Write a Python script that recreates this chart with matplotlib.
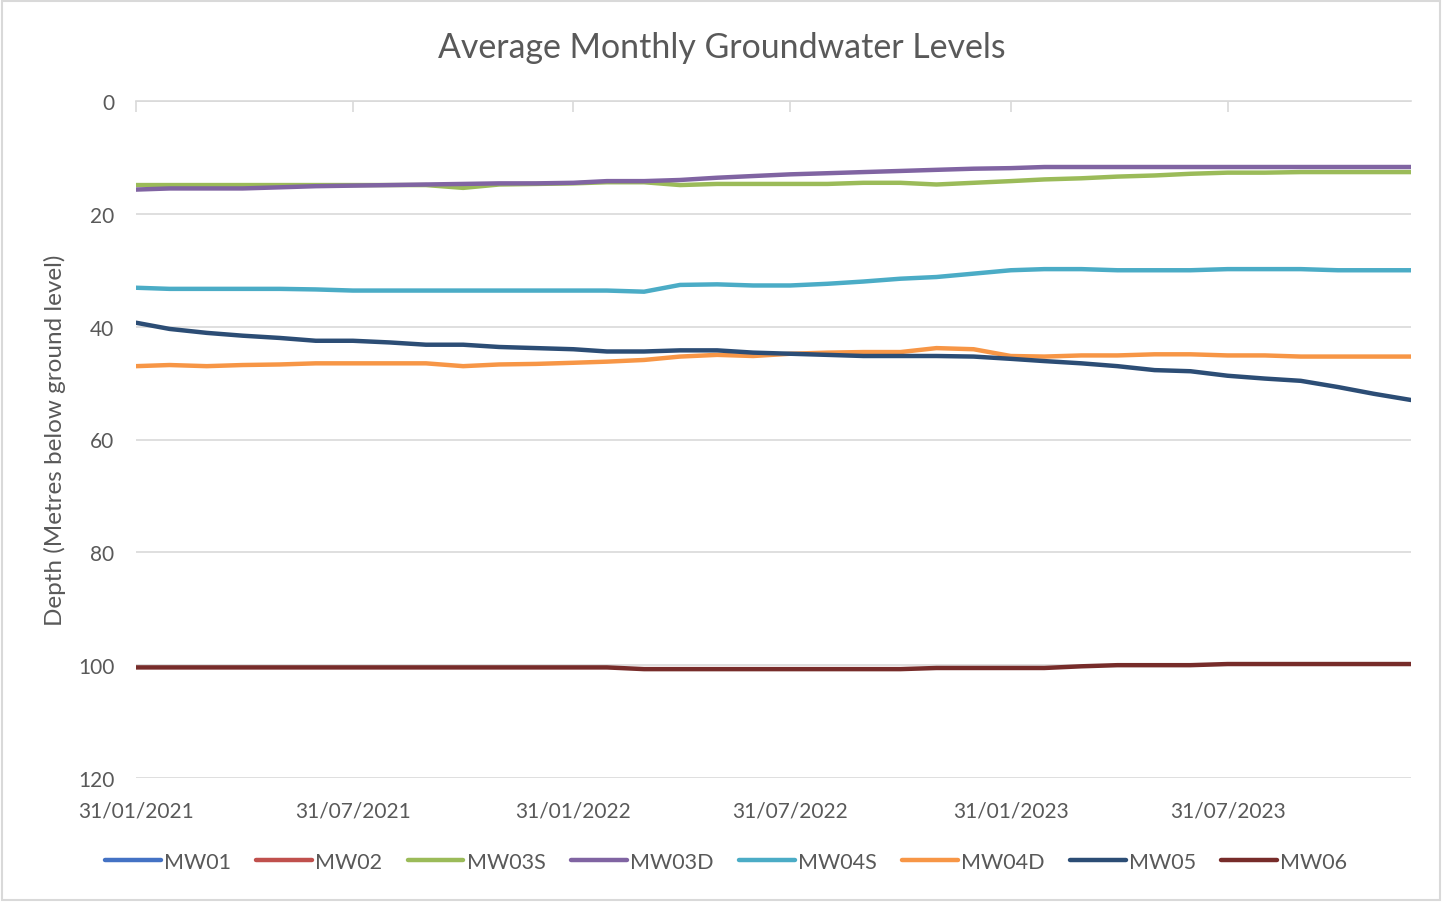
import matplotlib
matplotlib.use("Agg")
import matplotlib.pyplot as plt
import pandas as pd
from matplotlib.patches import Rectangle

plt.rcParams['font.family'] = ['Lato', 'DejaVu Sans']

dates = pd.date_range("2021-01-31", periods=36, freq="ME")

series_names = ["MW01", "MW02", "MW03S", "MW03D", "MW04S", "MW04D", "MW05", "MW06"]
colors = ["#4472C4", "#C0504D", "#9BBB59", "#8064A2", "#4BACC6", "#F79646", "#2C4D75", "#772C2A"]

mw01 = []
mw02 = []
mw03s = [14.9, 14.9, 14.9, 14.9, 14.9, 14.9, 14.9, 14.9, 14.9, 15.4, 14.8, 14.7,
         14.6, 14.4, 14.4, 14.9, 14.7, 14.7, 14.7, 14.7, 14.5, 14.5, 14.8, 14.5,
         14.2, 13.9, 13.7, 13.4, 13.2, 12.9, 12.7, 12.7, 12.6, 12.6, 12.6, 12.6]
mw03d = [15.7, 15.5, 15.5, 15.5, 15.3, 15.1, 15.0, 14.9, 14.8, 14.7, 14.6, 14.6,
         14.5, 14.2, 14.2, 14.0, 13.6, 13.3, 13.0, 12.8, 12.6, 12.4, 12.2, 12.0,
         11.9, 11.7, 11.7, 11.7, 11.7, 11.7, 11.7, 11.7, 11.7, 11.7, 11.7, 11.7]
mw04s = [33.1, 33.3, 33.3, 33.3, 33.3, 33.4, 33.6, 33.6, 33.6, 33.6, 33.6, 33.6,
         33.6, 33.6, 33.8, 32.6, 32.5, 32.7, 32.7, 32.4, 32.0, 31.5, 31.2, 30.6,
         30.0, 29.8, 29.8, 30.0, 30.0, 30.0, 29.8, 29.8, 29.8, 30.0, 30.0, 30.0]
mw04d = [47.0, 46.8, 47.0, 46.8, 46.7, 46.5, 46.5, 46.5, 46.5, 47.0, 46.7, 46.6,
         46.4, 46.2, 45.9, 45.3, 45.0, 45.2, 44.8, 44.6, 44.5, 44.5, 43.8, 44.0,
         45.2, 45.3, 45.1, 45.1, 44.9, 44.9, 45.1, 45.1, 45.3, 45.3, 45.3, 45.3]
mw05 = [39.3, 40.4, 41.1, 41.6, 42.0, 42.5, 42.5, 42.8, 43.2, 43.2, 43.6, 43.8,
        44.0, 44.4, 44.4, 44.2, 44.2, 44.6, 44.8, 45.0, 45.2, 45.2, 45.2, 45.3,
        45.7, 46.1, 46.5, 47.0, 47.7, 47.9, 48.7, 49.2, 49.6, 50.7, 51.9, 53.0]
mw06 = [100.4, 100.4, 100.4, 100.4, 100.4, 100.4, 100.4, 100.4, 100.4, 100.4, 100.4, 100.4,
        100.4, 100.4, 100.7, 100.7, 100.7, 100.7, 100.7, 100.7, 100.7, 100.7, 100.5, 100.5,
        100.5, 100.5, 100.2, 100.0, 100.0, 100.0, 99.8, 99.8, 99.8, 99.8, 99.8, 99.8]

values = [mw01, mw02, mw03s, mw03d, mw04s, mw04d, mw05, mw06]

yticks = [0, 20, 40, 60, 80, 100, 120]
xtick_dates = pd.to_datetime(["2021-01-31", "2021-07-31", "2022-01-31",
                              "2022-07-31", "2023-01-31", "2023-07-31"])
xtick_labels = ["31/01/2021", "31/07/2021", "31/01/2022",
                "31/07/2022", "31/01/2023", "31/07/2023"]

W, H = 1442, 903
fig = plt.figure(figsize=(W / 100, H / 100), dpi=100)
ax = fig.add_axes([136 / W, 1 - 779 / H, (1411 - 136) / W, (779 - 102) / H])

text_color = "#595959"
grid_color = "#D9D9D9"

handles = []
for name, vals, c in zip(series_names, values, colors):
    if len(vals):
        ln, = ax.plot(dates[:len(vals)], vals, color=c, lw=3.2, solid_capstyle='round',
                      solid_joinstyle='round', label=name)
    else:
        ln, = ax.plot([], [], color=c, lw=3.2, solid_capstyle='round', label=name)
    handles.append(ln)

ax.set_ylim(120, 0)
ax.set_xlim(dates[0], dates[-1])
ax.set_yticks(yticks)
ax.yaxis.grid(True, color=grid_color, lw=1.2)
ax.set_axisbelow(True)
for s in ["left", "right", "bottom"]:
    ax.spines[s].set_visible(False)
ax.spines["top"].set_color(grid_color)
ax.spines["top"].set_linewidth(1.2)

ax.set_xticks(xtick_dates)
ax.set_xticklabels(xtick_labels)
ax.tick_params(axis='x', top=True, bottom=False, labeltop=False, labelbottom=True,
               direction='in', length=8, color=grid_color, width=1.2,
               labelsize=15, labelcolor=text_color, pad=16)
ax.tick_params(axis='y', left=False, labelsize=15, labelcolor=text_color, pad=12)

ax.set_ylabel("Depth (Metres below ground level)", fontsize=17.5, color=text_color, labelpad=9)

fig.text(722 / W, 1 - 48 / H, "Average Monthly Groundwater Levels", ha='center', va='center',
         fontsize=24.4, color=text_color)

leg = fig.legend(handles=handles, loc='center', bbox_to_anchor=(726 / W, 1 - 863 / H),
                 ncol=8, frameon=False, fontsize=15.5, handlelength=2.6, handletextpad=0.15,
                 columnspacing=1.17, labelcolor=text_color)

fig.patches.append(Rectangle((2 / W, 2 / H), (W - 4) / W, (H - 4) / H,
                             transform=fig.transFigure, fill=False, edgecolor=grid_color, lw=1.5))

fig.savefig("out.png", dpi=100, facecolor="white")
